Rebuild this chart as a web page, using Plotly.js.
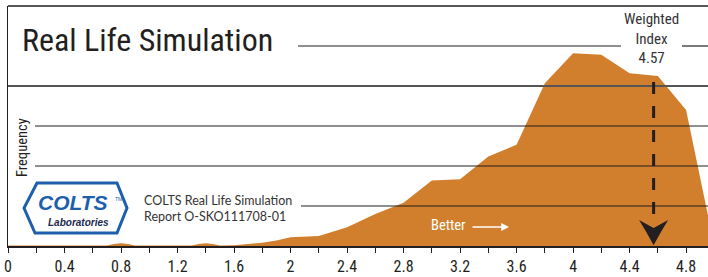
<!DOCTYPE html>
<html>
<head>
<meta charset="utf-8">
<script src="https://cdn.plot.ly/plotly-3.0.1.min.js"></script>
<style>html,body{margin:0;padding:0;background:#fff;}#chart{width:708px;height:277px;}</style>
</head>
<body>
<div id="chart"></div>
<script>
// ---- data ----
const indexValues = [0, 0.7, 0.75, 0.8, 0.85, 0.9, 1.3, 1.35, 1.4, 1.45, 1.5, 1.6, 1.7, 1.8, 1.9, 2.0, 2.2, 2.4, 2.6, 2.8, 3.0, 3.2, 3.4, 3.6, 3.8, 4.0, 4.2, 4.4, 4.6, 4.8, 5.0];
const frequency   = [0.01, 0.01, 0.05, 0.07, 0.05, 0.01, 0.01, 0.05, 0.07, 0.05, 0.01, 0.02, 0.05, 0.08, 0.14, 0.22, 0.25, 0.47, 0.8, 1.08, 1.64, 1.67, 2.24, 2.53, 4.07, 4.82, 4.78, 4.32, 4.25, 3.4, 0];
const tickVals   = [0, 0.4, 0.8, 1.2, 1.6, 2, 2.4, 2.8, 3.2, 3.6, 4, 4.4, 4.8];
const tickLabels = ["0", "0.4", "0.8", "1.2", "1.6", "2", "2.4", "2.8", "3.2", "3.6", "4", "4.4", "4.8"];
const weightedIndex = 4.57;
const chartTitle = "Real Life Simulation";
const reportLines = ["COLTS Real Life Simulation", "Report O-SKO111708-01"];

// ---- layout helpers (pixel -> paper) ----
const W = 708, H = 277, ML = 8, MR = 0, MT = 6, MB = 31;
const PW = W - ML - MR, PH = H - MT - MB;
const px = x => (x - ML) / PW;
const py = y => (H - MB - y) / PH;

const ORANGE = '#d17f2c';
const INK = '#231f20';
const BLUE = '#1d5fac';
const COND = '"Roboto Condensed", Roboto, "Liberation Sans", sans-serif';

const trace = {
  x: indexValues, y: frequency, type: 'scatter', mode: 'lines',
  fill: 'tozeroy', fillcolor: ORANGE, line: {width: 0, color: ORANGE},
  hoverinfo: 'skip'
};

function hline(yv, x0, x1, color, width) {
  return {type: 'line', xref: 'paper', yref: 'y', x0: x0, x1: x1, y0: yv, y1: yv,
          line: {color: color || INK, width: width || 1.2}, layer: 'above'};
}

const hexPts = [[37,183],[117,183],[127,208],[117,233],[35,233],[24,208]];
const hexPath = 'M' + hexPts.map(p => px(p[0]).toFixed(4) + ',' + py(p[1]).toFixed(4)).join(' L') + ' Z';

const shapes = [
  {type: 'line', xref: 'paper', yref: 'paper', x0: 0, x1: 1, y0: 1, y1: 1, line: {color: INK, width: 1.5}},
  hline(5, px(298), px(621)),
  hline(5, px(682), 1),
  hline(4, 0, 1, '#555', 1.8),
  hline(3, px(35), 1),
  hline(2, px(35), 1),
  hline(1, px(301), 1),
  {type: 'line', xref: 'x', yref: 'y', x0: weightedIndex, x1: weightedIndex, y0: 4.1, y1: 0.8,
   line: {color: INK, width: 3, dash: '12px,12px'}, layer: 'above'},
  {type: 'path', xref: 'x', yref: 'y', layer: 'above',
   path: 'M' + weightedIndex + ',0.02 Q' + (weightedIndex - 0.05) + ',0.35 ' + (weightedIndex - 0.103) + ',0.65 L' +
         weightedIndex + ',0.45 L' + (weightedIndex + 0.103) + ',0.65 Q' + (weightedIndex + 0.05) + ',0.35 ' + weightedIndex + ',0.02 Z',
   fillcolor: INK, line: {width: 0}},
  {type: 'path', xref: 'paper', yref: 'paper', path: hexPath, fillcolor: '#ffffff',
   line: {color: BLUE, width: 3}, layer: 'above'}
];

const annotations = [
  {xref: 'paper', yref: 'paper', x: px(20), y: py(40), xanchor: 'left', yanchor: 'middle',
   text: chartTitle, showarrow: false, font: {family: COND, size: 32, color: INK}},
  {xref: 'paper', yref: 'paper', x: px(22), y: py(148), xanchor: 'center', yanchor: 'middle',
   text: 'Frequency', textangle: -90, showarrow: false, font: {family: COND, size: 14.5, color: INK}},
  {xref: 'x', yref: 'paper', x: weightedIndex, y: py(39), xanchor: 'center', yanchor: 'middle', xshift: -2,
   text: 'Weighted<br>Index<br>' + weightedIndex.toFixed(2), showarrow: false,
   font: {family: COND, size: 15, color: '#333'}},
  {xref: 'paper', yref: 'paper', x: px(142), y: py(208), xanchor: 'left', yanchor: 'middle', align: 'left',
   text: reportLines.join('<br>'), showarrow: false,
   font: {family: 'Lato, "Open Sans", sans-serif', size: 12.5, color: '#333'}},
  {xref: 'paper', yref: 'paper', x: px(448), y: py(225), xanchor: 'center', yanchor: 'middle',
   text: 'Better', showarrow: false, font: {family: COND, size: 14.5, color: '#ffffff'}},
  {xref: 'paper', yref: 'paper', x: px(509), y: py(227), ax: px(471), ay: py(227), axref: 'paper', ayref: 'paper',
   text: '', showarrow: true, arrowhead: 2, arrowsize: 1.2, arrowwidth: 1.3, arrowcolor: '#ffffff'},
  {xref: 'paper', yref: 'paper', x: px(73), y: py(202.5), xanchor: 'center', yanchor: 'middle',
   text: 'COLTS', showarrow: false,
   font: {family: '"Liberation Sans", Arial, sans-serif', size: 21, color: BLUE, weight: 'bold', style: 'italic'}},
  {xref: 'paper', yref: 'paper', x: px(118), y: py(199), xanchor: 'center', yanchor: 'middle',
   text: 'TM', showarrow: false, font: {family: '"Liberation Sans", Arial, sans-serif', size: 5, color: BLUE}},
  {xref: 'paper', yref: 'paper', x: px(78), y: py(222), xanchor: 'center', yanchor: 'middle',
   text: 'Laboratories', showarrow: false,
   font: {family: '"Liberation Sans", Arial, sans-serif', size: 10, color: '#1b2a4e', weight: 'bold', style: 'italic'}}
];

const layout = {
  width: W, height: H,
  margin: {l: ML, r: MR, t: MT, b: MB, pad: 0},
  paper_bgcolor: '#ffffff', plot_bgcolor: '#ffffff',
  showlegend: false,
  xaxis: {
    range: [0, 4.955], showgrid: false, zeroline: false,
    tickvals: tickVals, ticktext: tickLabels,
    ticks: 'outside', ticklen: 5, tickwidth: 1, tickcolor: INK,
    minor: {dtick: 0.2, tick0: 0, ticks: 'outside', ticklen: 5, tickwidth: 1, tickcolor: INK, showgrid: false},
    showline: true, linecolor: INK, linewidth: 1.5,
    tickfont: {family: COND, size: 16, color: INK},
    fixedrange: true
  },
  yaxis: {
    range: [0, 6], showgrid: false, zeroline: false, showticklabels: false, ticks: '',
    showline: true, linecolor: INK, linewidth: 1.2, fixedrange: true
  },
  shapes: shapes,
  annotations: annotations
};

Plotly.newPlot('chart', [trace], layout, {staticPlot: true, displayModeBar: false});
</script>
</body>
</html>
